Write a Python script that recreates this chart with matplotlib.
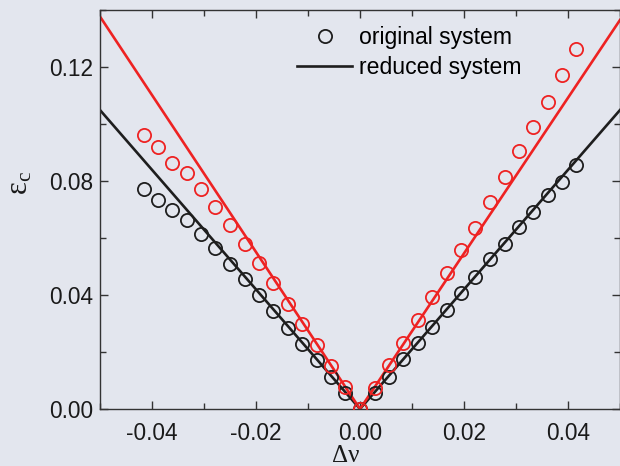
import matplotlib
matplotlib.use('Agg')
import matplotlib.pyplot as plt
from matplotlib.lines import Line2D
from matplotlib.ticker import MultipleLocator

# points mesures (systeme original)
dnu_left = [-0.0416, -0.0389, -0.0361, -0.0333, -0.0305, -0.0278, -0.0250, -0.0222,
            -0.0194, -0.0167, -0.0139, -0.0111, -0.0083, -0.0055, -0.0028, 0.0]
dnu_right = [0.0028, 0.0055, 0.0083, 0.0111, 0.0139, 0.0167, 0.0194, 0.0222,
             0.0250, 0.0278, 0.0305, 0.0333, 0.0361, 0.0389, 0.0416]

black_left = [0.0771, 0.0733, 0.0698, 0.0663, 0.0614, 0.0565, 0.0508, 0.0455,
              0.0400, 0.0345, 0.0284, 0.0228, 0.0172, 0.0113, 0.0057, 0.0]
black_right = [0.0057, 0.0113, 0.0174, 0.0233, 0.0287, 0.0347, 0.0408, 0.0464,
               0.0525, 0.0579, 0.0639, 0.0691, 0.0751, 0.0798, 0.0856]

red_left = [0.0962, 0.0918, 0.0864, 0.0827, 0.0772, 0.0708, 0.0646, 0.0579,
            0.0511, 0.0443, 0.0368, 0.0298, 0.0225, 0.0151, 0.0078, 0.0]
red_right = [0.0073, 0.0154, 0.0231, 0.0312, 0.0392, 0.0478, 0.0558, 0.0635,
             0.0727, 0.0815, 0.0906, 0.0988, 0.1078, 0.1172, 0.1263]

# systeme reduit (droites)
line_x = [-0.05, 0.0, 0.05]
black_line = [0.1049, 0.0, 0.1049]
red_line = [0.1377, 0.0, 0.1365]

bg = '#e3e6ee'
red = '#ee2222'
dark = '#1e1e1e'

plt.rcParams['font.family'] = ['Liberation Sans', 'DejaVu Sans']
plt.rcParams['mathtext.fontset'] = 'custom'
plt.rcParams['mathtext.rm'] = 'Liberation Serif'
plt.rcParams['mathtext.it'] = 'Liberation Serif:italic'

fig = plt.figure(figsize=(6.2, 4.66), dpi=100, facecolor=bg)
W, H = 620, 466
ax = fig.add_axes([100 / W, (H - 409) / H, 520 / W, 399 / H], facecolor=bg)

ax.plot(line_x, black_line, color=dark, lw=1.9, zorder=2)
ax.plot(line_x, red_line, color=red, lw=1.9, zorder=2)

mk = dict(ls='none', marker='o', ms=9.5, mfc='none', mew=1.3, zorder=3)
ax.plot(dnu_left + dnu_right, black_left + black_right, color=dark, **mk)
ax.plot(dnu_left + dnu_right, red_left + red_right, color=red, **mk)

ax.set_xlim(-0.05, 0.05)
ax.set_ylim(0, 0.14)
ax.xaxis.set_minor_locator(MultipleLocator(0.01))
ax.yaxis.set_minor_locator(MultipleLocator(0.02))
ax.set_xticks([-0.04, -0.02, 0.0, 0.02, 0.04])
ax.set_xticklabels(['-0.04', '-0.02', '0.00', '0.02', '0.04'])
ax.set_yticks([0.0, 0.04, 0.08, 0.12])
ax.set_yticklabels(['0.00', '0.04', '0.08', '0.12'])

ax.tick_params(which='both', direction='in', top=True, right=True,
               color='#333333', width=1.0, labelsize=16.3, labelcolor='#1a1a1a')
ax.tick_params(which='major', length=6)
ax.tick_params(which='minor', length=4)
ax.tick_params(axis='x', pad=9)
ax.tick_params(axis='y', pad=5)
for s in ax.spines.values():
    s.set_color('#333333')
    s.set_linewidth(1.0)

fig.text(346 / W, 1 - 456 / H, '\u0394\u03bd', family='Liberation Serif',
         fontsize=18, ha='center', va='center', color='#1a1a1a')
fig.text(20 / W, 1 - 183 / H, '$\\mathrm{\u03b5}_{\\mathrm{c}}$', fontsize=22,
         rotation=90, ha='center', va='center', color='#1a1a1a')

handles = [Line2D([], [], ls='none', marker='o', ms=9.5, mfc='none', mew=1.3, color=dark),
           Line2D([], [], color=dark, lw=1.9)]
ax.legend(handles, ['original system', 'reduced system'], loc='upper left',
          bbox_to_anchor=(297 / W, 1 - 26 / H), bbox_transform=fig.transFigure,
          frameon=False, fontsize=16.6, handlelength=2.4, handletextpad=0.3,
          labelspacing=0.32, borderpad=0, borderaxespad=0)

fig.savefig('out.png', dpi=100, facecolor=bg)
